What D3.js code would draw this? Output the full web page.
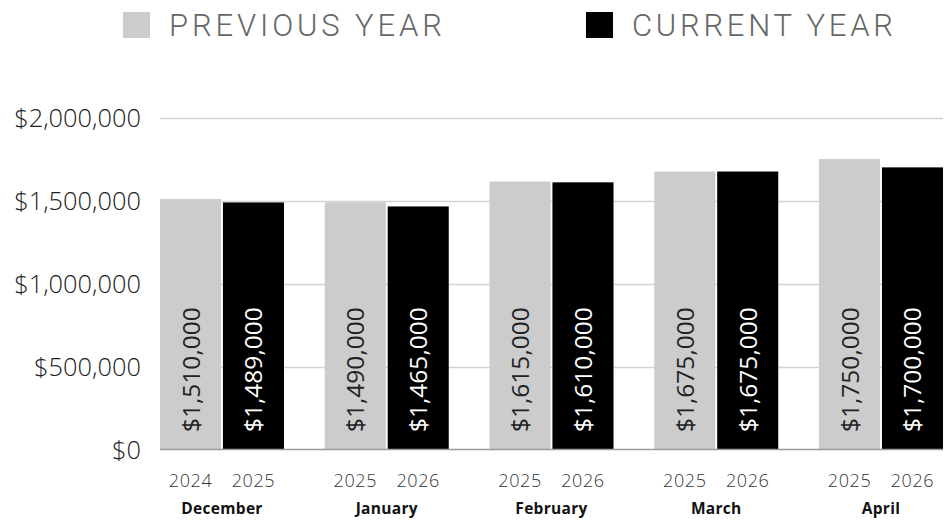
<!DOCTYPE html>
<html><head><meta charset="utf-8">
<script src="https://cdn.jsdelivr.net/npm/d3@7"></script>
<style>html,body{margin:0;padding:0;background:#fff;}svg{display:block;}</style>
</head><body>
<svg id="chart" width="949" height="523"></svg>
<script>
const months = ["December", "January", "February", "March", "April"];
const prevYears = ["2024", "2025", "2025", "2025", "2025"];
const currYears = ["2025", "2026", "2026", "2026", "2026"];
const previousValues = [1510000, 1490000, 1615000, 1675000, 1750000];
const currentValues = [1489000, 1465000, 1610000, 1675000, 1700000];
const yTicks = [0, 500000, 1000000, 1500000, 2000000];
const seriesNames = ["PREVIOUS YEAR", "CURRENT YEAR"];
const seriesKeys = ["prev", "curr"];
const colors = {prev: "#cccccc", curr: "#000000"};

(function () {
const data = months.map((m, i) => ({
  month: m,
  prev: previousValues[i], curr: currentValues[i],
  prevYear: prevYears[i], currYear: currYears[i]
}));

const svg = d3.select("#chart");
const pL = 160, pR = 943, pT = 117.5, pB = 450;

const x0 = d3.scaleBand().domain(months).range([pL, pR]).paddingInner(0.2473).paddingOuter(0);
const x1 = d3.scaleBand().domain(seriesKeys).range([0, x0.bandwidth()]).paddingInner(0.03).paddingOuter(0);
const y = d3.scaleLinear().domain([0, 2000000]).range([pB, pT]);
const fmt = v => "$" + d3.format(",")(v);

// gridlines
svg.append("g").selectAll("line").data(yTicks.filter(t => t > 0)).join("line")
  .attr("x1", pL).attr("x2", pR)
  .attr("y1", d => Math.round(y(d)) + 0.5).attr("y2", d => Math.round(y(d)) + 0.5)
  .attr("stroke", "#d4d4d4").attr("stroke-width", 1.3);

// y axis
const yAxis = d3.axisLeft(y).tickValues(yTicks).tickFormat(fmt).tickSize(0).tickPadding(0);
const yg = svg.append("g").attr("transform", `translate(141,0)`).call(yAxis);
yg.select(".domain").remove();
yg.selectAll("text").attr("font-family", "'Open Sans', sans-serif").attr("font-weight", 300)
  .attr("font-size", 25.4).attr("fill", "#222").attr("dy", "0.35em");

// bars
const groups = svg.append("g").selectAll("g").data(data).join("g")
  .attr("transform", d => `translate(${x0(d.month)},0)`);

groups.selectAll("rect").data(d => seriesKeys.map(k => ({key: k, value: d[k]}))).join("rect")
  .attr("x", d => x1(d.key)).attr("width", x1.bandwidth())
  .attr("y", d => y(d.value)).attr("height", d => y(0) - y(d.value))
  .attr("fill", d => colors[d.key]);

groups.selectAll("text.val").data(d => seriesKeys.map(k => ({key: k, value: d[k]}))).join("text")
  .attr("class", "val")
  .attr("transform", d => `translate(${x1(d.key) + x1.bandwidth() / 2 + 9},${y(0) - 18}) rotate(-90)`)
  .attr("font-family", "'Open Sans', sans-serif").attr("font-size", 24.5)
  .attr("fill", d => d.key === "prev" ? "#222" : "#fff")
  .text(d => fmt(d.value));

// baseline
svg.append("line").attr("x1", pL).attr("x2", pR)
  .attr("y1", y(0) - 0.5).attr("y2", y(0) - 0.5)
  .attr("stroke", "#9a9a9a").attr("stroke-width", 1.3);

// year labels
groups.selectAll("text.yr").data(d => [{key: "prev", t: d.prevYear}, {key: "curr", t: d.currYear}]).join("text")
  .attr("class", "yr")
  .attr("x", d => x1(d.key) + x1.bandwidth() / 2).attr("y", 487)
  .attr("text-anchor", "middle")
  .attr("font-family", "'Open Sans', sans-serif").attr("font-weight", 300)
  .attr("font-size", 18).attr("fill", "#333").attr("letter-spacing", 0.6)
  .text(d => d.t);

// month labels
groups.append("text")
  .attr("x", x0.bandwidth() / 2).attr("y", 514)
  .attr("text-anchor", "middle")
  .attr("font-family", "'Open Sans', sans-serif").attr("font-weight", 700)
  .attr("font-size", 15.5).attr("fill", "#111").attr("letter-spacing", 0.3)
  .text(d => d.month);

// legend
const legendX = [123, 586];
const legendTextLen = [273, 261];
const lg = svg.append("g").selectAll("g").data(seriesKeys).join("g")
  .attr("transform", (d, i) => `translate(${legendX[i]},12)`);
lg.append("rect").attr("width", 27).attr("height", 26).attr("fill", d => colors[d]);
lg.append("text").attr("x", 46).attr("y", 23.5)
  .attr("font-family", "Roboto, sans-serif").attr("font-weight", 300)
  .attr("font-size", 31).attr("fill", "#666")
  .attr("textLength", (d, i) => legendTextLen[i]).attr("lengthAdjust", "spacing")
  .text((d, i) => seriesNames[i]);
})();
</script>
</body></html>
